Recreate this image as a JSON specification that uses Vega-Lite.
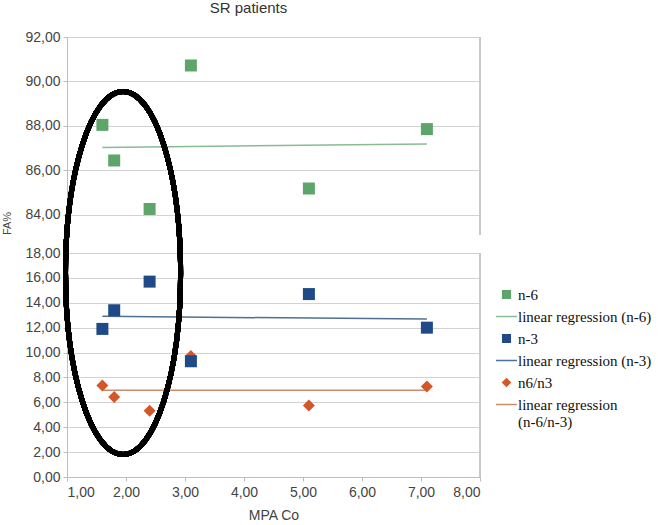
{
  "$schema": "https://vega.github.io/schema/vega-lite/v6.json",
  "width": 413,
  "height": 440,
  "autosize": {"type": "none"},
  "padding": {"left": 67, "top": 37, "right": 178, "bottom": 48},
  "background": "white",
  "title": {
    "text": "SR patients",
    "anchor": "middle",
    "dx": -25,
    "offset": 14,
    "font": "Liberation Sans",
    "fontSize": 15,
    "fontWeight": "normal",
    "color": "#333333"
  },
  "data": {
    "values": [
      {"mpa": 1.6, "fa": 88.05, "marker": "n-6", "fit": "linear regression (n-6)"},
      {"mpa": 1.8, "fa": 86.45, "marker": "n-6", "fit": "linear regression (n-6)"},
      {"mpa": 2.4, "fa": 84.27, "marker": "n-6", "fit": "linear regression (n-6)"},
      {"mpa": 3.1, "fa": 90.72, "marker": "n-6", "fit": "linear regression (n-6)"},
      {"mpa": 5.1, "fa": 85.19, "marker": "n-6", "fit": "linear regression (n-6)"},
      {"mpa": 7.1, "fa": 87.86, "marker": "n-6", "fit": "linear regression (n-6)"},
      {"mpa": 1.6, "fa": 7.35, "marker": "n6/n3", "fit": "linear regression (n-6/n-3)"},
      {"mpa": 1.8, "fa": 6.43, "marker": "n6/n3", "fit": "linear regression (n-6/n-3)"},
      {"mpa": 2.4, "fa": 5.33, "marker": "n6/n3", "fit": "linear regression (n-6/n-3)"},
      {"mpa": 3.1, "fa": 9.72, "marker": "n6/n3", "fit": "linear regression (n-6/n-3)"},
      {"mpa": 5.1, "fa": 5.75, "marker": "n6/n3", "fit": "linear regression (n-6/n-3)"},
      {"mpa": 7.1, "fa": 7.27, "marker": "n6/n3", "fit": "linear regression (n-6/n-3)"},
      {"mpa": 1.6, "fa": 11.9, "marker": "n-3", "fit": "linear regression (n-3)"},
      {"mpa": 1.8, "fa": 13.4, "marker": "n-3", "fit": "linear regression (n-3)"},
      {"mpa": 2.4, "fa": 15.7, "marker": "n-3", "fit": "linear regression (n-3)"},
      {"mpa": 3.1, "fa": 9.3, "marker": "n-3", "fit": "linear regression (n-3)"},
      {"mpa": 5.1, "fa": 14.7, "marker": "n-3", "fit": "linear regression (n-3)"},
      {"mpa": 7.1, "fa": 12.0, "marker": "n-3", "fit": "linear regression (n-3)"}
    ]
  },
  "config": {
    "view": {"stroke": null},
    "axis": {
      "labelFont": "Liberation Sans",
      "labelFontSize": 14,
      "labelColor": "#444444",
      "labelOverlap": false,
      "labelBound": false,
      "titleFont": "Liberation Sans",
      "titleFontWeight": "normal",
      "titleColor": "#444444",
      "domainColor": "#bdbdbd",
      "tickColor": "#bdbdbd",
      "gridColor": "#d2d2d2",
      "tickSize": 4
    },
    "legend": {
      "orient": "none",
      "legendX": 428,
      "legendY": 246,
      "labelFont": "Liberation Serif",
      "labelFontSize": 15,
      "labelColor": "#111111",
      "labelLimit": 220,
      "labelOffset": 0,
      "rowPadding": 2,
      "symbolSize": 441,
      "symbolStrokeWidth": 1.5
    }
  },
  "layer": [
    {
      "mark": {"type": "rule", "color": "#c8c8c8"},
      "encoding": {
        "x": {"datum": 8, "type": "quantitative"},
        "y": {"datum": 0, "type": "quantitative"},
        "y2": {"datum": 18}
      }
    },
    {
      "mark": {"type": "rule", "color": "#c8c8c8"},
      "encoding": {
        "x": {"datum": 8, "type": "quantitative"},
        "y": {"datum": 83.1, "type": "quantitative"},
        "y2": {"datum": 92}
      }
    },
    {
      "transform": [{"regression": "fa", "on": "mpa", "groupby": ["fit"]}],
      "mark": {"type": "line", "strokeWidth": 1.5},
      "encoding": {
        "x": {"field": "mpa", "type": "quantitative"},
        "y": {"field": "fa", "type": "quantitative"},
        "color": {"field": "fit", "type": "nominal"}
      }
    },
    {
      "mark": {"type": "point", "filled": true, "opacity": 1, "size": 1111},
      "encoding": {
        "x": {
          "field": "mpa",
          "type": "quantitative",
          "scale": {"domain": [1, 8], "nice": false, "zero": false},
          "axis": {
            "values": [1, 2, 3, 4, 5, 6, 7, 8],
            "grid": false,
            "labelExpr": "replace(format(datum.value, '.2f'), '.', ',')",
            "title": "MPA Co",
            "titleFontSize": 14,
            "titlePadding": 9,
            "labelPadding": 4
          }
        },
        "y": {
          "field": "fa",
          "type": "quantitative",
          "scale": {"domain": [0, 18, 83.1, 92], "range": [440, 216, 198, 0], "nice": false, "zero": false},
          "axis": {
            "values": [0, 2, 4, 6, 8, 10, 12, 14, 16, 18, 84, 86, 88, 90, 92],
            "tickCount": 30,
            "grid": true,
            "labelExpr": "replace(format(datum.value, '.2f'), '.', ',')",
            "labelPadding": 3,
            "title": "FA%",
            "titleFontSize": 11,
            "titleX": -55,
            "titleY": 186
          }
        },
        "color": {
          "field": "marker",
          "type": "nominal",
          "scale": {
            "domain": ["n-6", "linear regression (n-6)", "n-3", "linear regression (n-3)", "n6/n3", "linear regression (n-6/n-3)"],
            "range": ["#5ea56b", "#86bd94", "#1f4a87", "#4f7191", "#d4572b", "#c98c6c"]
          },
          "legend": {
            "title": null,
            "labelExpr": "datum.label == 'linear regression (n-6/n-3)' ? ['linear regression', '\u00a0\u00a0\u00a0\u00a0(n-6/n-3)'] : datum.label"
          }
        },
        "shape": {
          "field": "marker",
          "type": "nominal",
          "scale": {
            "domain": ["n-6", "linear regression (n-6)", "n-3", "linear regression (n-3)", "n6/n3", "linear regression (n-6/n-3)"],
            "range": [
              "M-0.36,-0.36H0.36V0.36H-0.36Z",
              "stroke",
              "M-0.36,-0.36H0.36V0.36H-0.36Z",
              "stroke",
              "M0,-0.36L0.36,0L0,0.36L-0.36,0Z",
              "stroke"
            ]
          },
          "legend": {
            "title": null,
            "labelExpr": "datum.label == 'linear regression (n-6/n-3)' ? ['linear regression', '\u00a0\u00a0\u00a0\u00a0(n-6/n-3)'] : datum.label"
          }
        }
      }
    },
    {
      "mark": {
        "type": "point",
        "shape": "M0,-1 A0.317,1 0 1,1 0,1 A0.317,1 0 1,1 0,-1 Z",
        "size": 131769,
        "filled": false,
        "opacity": 1,
        "stroke": "#000000",
        "strokeWidth": 5
      },
      "encoding": {
        "x": {"datum": 1.95, "type": "quantitative"},
        "y": {"datum": 16.39, "type": "quantitative"}
      }
    }
  ]
}
